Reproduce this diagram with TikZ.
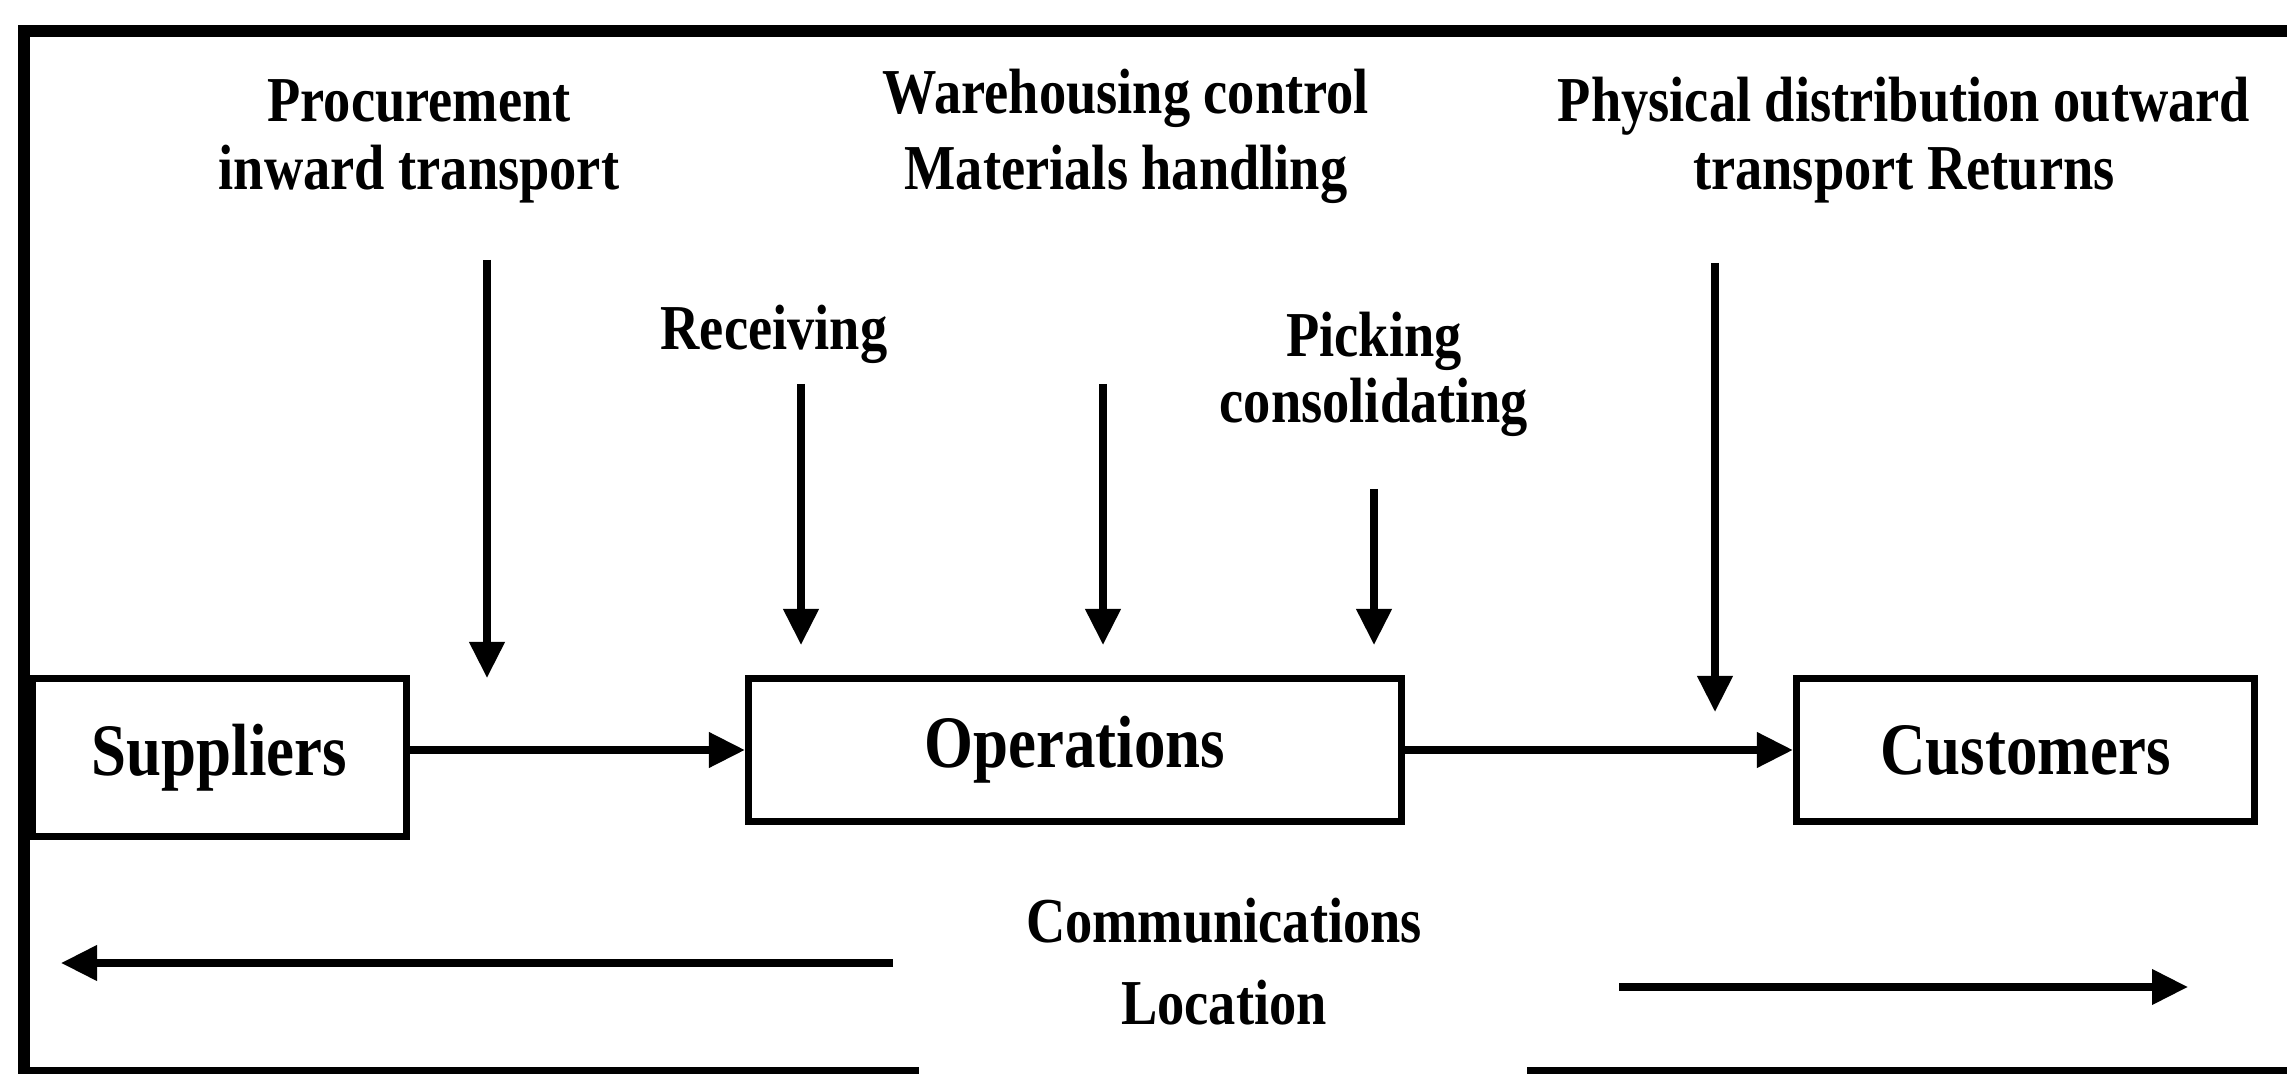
\documentclass[tikz,border=0pt]{standalone}
\usepackage{fontspec}
\setmainfont{Liberation Serif}[FakeStretch=0.85]
\usetikzlibrary{arrows.meta}
\begin{document}
\begin{tikzpicture}[x=0.5pt,y=-0.5pt,
  lbl/.style={font=\fontsize{32pt}{34pt}\selectfont\bfseries, anchor=base, inner sep=0pt},
  boxlbl/.style={draw, line width=3.6pt, font=\fontsize{37pt}{40pt}\selectfont\bfseries, inner sep=0pt},
  arr/.style={line width=3.6pt, -{Triangle[length=18pt,width=17pt]}},
  framel/.style={line width=6pt, line join=miter}]
\useasboundingbox (0,0) rectangle (2287,1074);
% outer frame
\draw[framel] (24,1074) -- (24,31) -- (2287,31);
\draw[line width=3.5pt] (21,1070) -- (919,1070);
\draw[line width=3.5pt] (1527,1070) -- (2287,1070);
% labels
\node[lbl] (pro1) at (419,122) {Procurement};
\node[lbl] (pro2) at (419,190) {inward transport};
\node[lbl] (wh1) at (1126,114) {Warehousing control};
\node[lbl] (wh2) at (1126,190) {Materials handling};
\node[lbl] (pd1) at (1904,122) {Physical distribution outward};
\node[lbl] (pd2) at (1904,190) {transport Returns};
\node[lbl] (rec) at (774,350) {Receiving};
\node[lbl] (pk1) at (1374,357) {Picking};
\node[lbl] (pk2) at (1374,423) {consolidating};
\node[lbl] (com1) at (1224,942) {Communications};
\node[lbl] (com2) at (1224,1024) {Location};
% boxes
\node[boxlbl, minimum width=187pt, minimum height=79pt] (sup) at (219.5,757.5) {Suppliers};
\node[boxlbl, minimum width=326.5pt, minimum height=71.5pt] (ops) at (1075,750) {Operations};
\node[boxlbl, minimum width=229pt, minimum height=71.5pt] (cus) at (2025.5,750) {Customers};
% flow connectors
\draw[arr] (sup.east |- ops.west) -- (ops.west);
\draw[arr] (ops.east) -- (cus.west);
% vertical arrows
\coordinate (a1s) at (487,260); \coordinate (a1e) at (487,678);
\coordinate (a2s) at (801,384); \coordinate (a2e) at (801,645);
\coordinate (a3s) at (1103,384); \coordinate (a3e) at (1103,645);
\coordinate (a4s) at (1374,489); \coordinate (a4e) at (1374,645);
\coordinate (a5s) at (1715,263); \coordinate (a5e) at (1715,712);
\draw[arr] (a1s) -- (a1e);
\draw[arr] (a2s) -- (a2e);
\draw[arr] (a3s) -- (a3e);
\draw[arr] (a4s) -- (a4e);
\draw[arr] (a5s) -- (a5e);
% communications / location arrows
\coordinate (l1s) at (893,963); \coordinate (l1e) at (61,963);
\coordinate (r1s) at (1619,987); \coordinate (r1e) at (2188,987);
\draw[arr] (l1s) -- (l1e);
\draw[arr] (r1s) -- (r1e);
\end{tikzpicture}
\end{document}
